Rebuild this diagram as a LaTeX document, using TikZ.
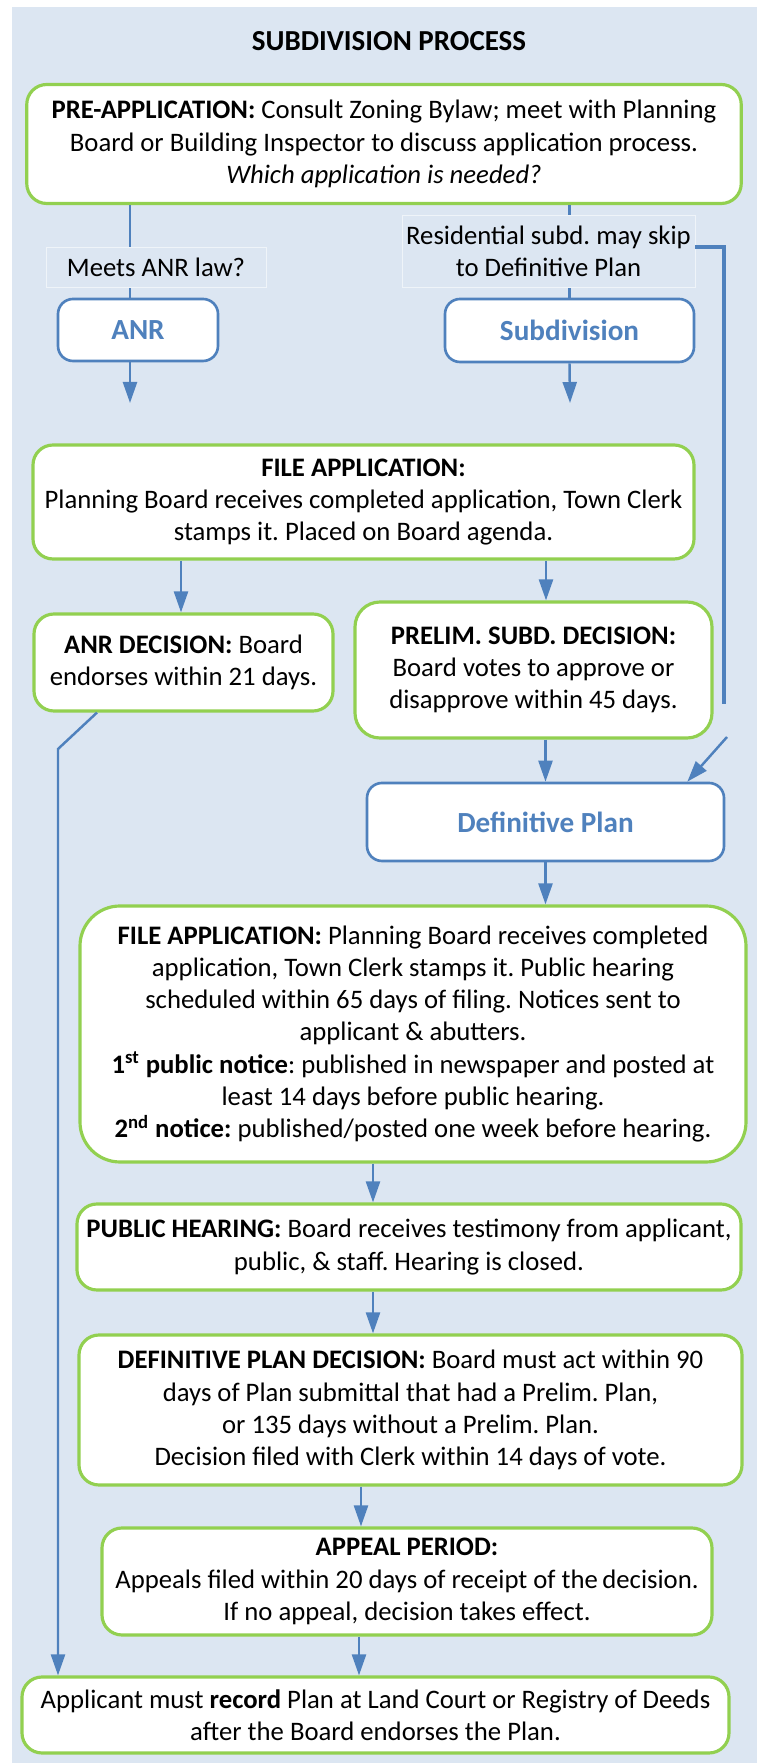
\documentclass[tikz,border=0pt]{standalone}
\usepackage{fontspec}
\setmainfont{Carlito}
\usetikzlibrary{positioning}
\usetikzlibrary{arrows.meta, calc}
\frenchspacing

\definecolor{bgblue}{HTML}{DCE6F2}
\definecolor{boxgreen}{HTML}{92D050}
\definecolor{flowblue}{HTML}{4F81BD}

\begin{document}
\begin{tikzpicture}[
  font=\fontsize{15.2}{18.3}\selectfont,
  greenbox/.style={draw=boxgreen, line width=1.8pt, fill=white, rounded corners=0.4cm, align=center, inner sep=0pt},
  bluebox/.style={draw=flowblue, line width=1.5pt, fill=white, rounded corners=0.3cm, align=center, inner sep=0pt, text=flowblue, font=\fontsize{16.6}{19}\selectfont\bfseries},
  asklabel/.style={fill=bgblue, draw=white!55!bgblue, very thin, align=center, inner sep=0pt},
  flowline/.style={draw=flowblue, line width=1.4pt},
  flow/.style={flowline, -{Triangle[length=0.42cm,width=0.28cm]}}
]
\useasboundingbox (0,0) rectangle (15.14,35.26);
\fill[bgblue] (0.24,0) rectangle (15.14,35.12);

\node[font=\fontsize{16.5}{19}\selectfont\bfseries] (title) at (7.78,34.44) {SUBDIVISION PROCESS};

% top part
\node[greenbox, minimum width=14.29cm, minimum height=2.38cm] (pre) at (7.68,32.38)
  {\textbf{PRE-APPLICATION:} Consult Zoning Bylaw; meet with Planning\\
   Board or Building Inspector to discuss application process.\\
   \textit{Which application is needed?}};
\node[bluebox, minimum width=3.2cm, minimum height=1.24cm] (anr) at (2.76,28.66) {ANR};
\node[bluebox, minimum width=4.98cm, minimum height=1.26cm] (sub) at (11.39,28.65) {Subdivision};

\coordinate (anrx) at (2.6,0);
\coordinate (anrgo) at (2.6,27.2);
\coordinate (subgo) at (11.4,27.2);
\draw[flowline] (pre.south -| anrx) -- (anr.north -| anrx);
\draw[flowline] (pre.south -| sub) -- (sub.north);
\draw[flow] (anr.south -| anrx) -- (anrgo);
\draw[flow] (sub.south) -- (subgo);

\node[asklabel, minimum width=4.4cm, minimum height=0.8cm] (anrask) at (3.12,29.92) {Meets ANR law?};
\node[asklabel, minimum width=5.86cm, minimum height=1.44cm] (subask) at (10.97,30.24)
  {Residential subd. may skip\\ to Definitive Plan};

% skip to definitive plan
\coordinate (skiptop) at (14.48,30.32);
\coordinate (skipend) at (14.48,21.18);
\coordinate (skipgo) at (14.54,20.52);
\draw[flowblue, line width=2.7pt] (subask.east |- skiptop) -- (skiptop) -- (skipend);

% file application
\node[greenbox, minimum width=13.22cm, minimum height=2.28cm] (filea) at (7.27,25.22)
  {\textbf{FILE APPLICATION:}\\
   Planning Board receives completed application, Town Clerk\\
   stamps it. Placed on Board agenda.};
\node[greenbox, minimum width=5.98cm, minimum height=1.94cm] (anrdec) at (3.67,22.01)
  {\textbf{ANR DECISION:} Board\\ endorses within 21 days.};
\node[greenbox, rounded corners=0.5cm, minimum width=7.14cm, minimum height=2.72cm] (prelim) at (10.67,21.86)
  {\textbf{PRELIM. SUBD. DECISION:}\\ Board votes to approve or\\ disapprove within 45 days.};
\node[bluebox, minimum width=7.14cm, minimum height=1.56cm] (defplan) at (10.91,18.82) {Definitive Plan};

\coordinate (anrdecx) at (3.62,0);
\coordinate (prelimx) at (10.92,0);
\draw[flow] (filea.south -| anrdecx) -- (anrdec.north -| anrdecx);
\draw[flow] (filea.south -| prelimx) -- (prelim.north -| prelimx);
\draw[flow] (prelim.south -| defplan) -- (defplan.north);
\draw[flow] (skipgo) -- ($(defplan.north east)+(-0.76,0)$);

% definitive plan steps
\node[greenbox, rounded corners=0.8cm, minimum width=13.32cm, minimum height=5.12cm] (fileb) at (8.26,14.58)
  {\textbf{FILE APPLICATION:} Planning Board receives completed\\
   application, Town Clerk stamps it. Public hearing\\
   scheduled within 65 days of filing. Notices sent to\\
   applicant \& abutters.\\
   \textbf{1\textsuperscript{st} public notice}: published in newspaper and posted at\\
   least 14 days before public hearing.\\
   \textbf{2\textsuperscript{nd} notice:} published/posted one week before hearing.};
\node[greenbox, minimum width=13.28cm, minimum height=1.72cm] (hearing) at (8.18,10.32)
  {\textbf{PUBLIC HEARING:} Board receives testimony from applicant,\\
   public, \& staff. Hearing is closed.};
\node[greenbox, minimum width=13.26cm, minimum height=3.0cm] (defdec) at (8.21,7.06)
  {\textbf{DEFINITIVE PLAN DECISION:} Board must act within 90\\
   days of Plan submittal that had a Prelim. Plan,\\
   or 135 days without a Prelim. Plan.\\
   Decision filed with Clerk within 14 days of vote.};
\node[greenbox, minimum width=12.2cm, minimum height=2.14cm] (appeal) at (8.14,3.63)
  {\textbf{APPEAL PERIOD:}\\
   Appeals filed within 20 days of receipt of the\,decision.\\
   If no appeal, decision takes effect.};
\node[greenbox, minimum width=14.14cm, minimum height=1.52cm] (final) at (7.51,0.96)
  {Applicant must \textbf{record} Plan at Land Court or Registry of Deeds\\
   after the Board endorses the Plan.};

\coordinate (hearx) at (7.46,0);
\coordinate (appx) at (7.22,0);
\coordinate (finx) at (7.18,0);
\draw[flow] (defplan.south) -- (fileb.north -| defplan);
\draw[flow] (fileb.south -| hearx) -- (hearing.north -| hearx);
\draw[flow] (hearing.south -| hearx) -- (defdec.north -| hearx);
\draw[flow] (defdec.south -| appx) -- (appeal.north -| appx);
\draw[flow] (appeal.south -| finx) -- (final.north -| finx);

% ANR path straight to recording
\coordinate (anrfoot) at (1.94,0);
\coordinate (anrbend) at (1.16,20.28);
\draw[flow] (anrdec.south -| anrfoot) -- (anrbend) -- (final.north -| anrbend);

\end{tikzpicture}
\end{document}
